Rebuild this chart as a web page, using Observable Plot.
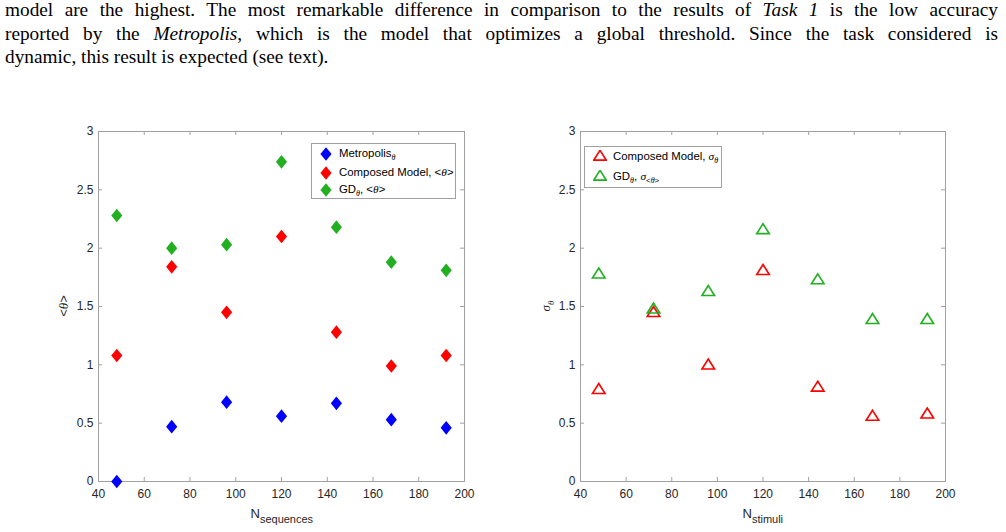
<!DOCTYPE html>
<html><head><meta charset="utf-8">
<script src="https://cdn.jsdelivr.net/npm/d3@7"></script>
<script src="https://cdn.jsdelivr.net/npm/@observablehq/plot@0.6"></script>
<style>
body{margin:0;background:#fff;}
#page{position:relative;width:1006px;height:532px;overflow:hidden;background:#fff;}
.para{position:absolute;left:5px;width:995px;top:-2px;font-family:"Liberation Serif","DejaVu Serif",serif;font-size:19.3px;line-height:23.5px;color:#000;}
.para div{white-space:nowrap;}
.chart{position:absolute;top:120px;}
.lab{position:absolute;font-family:"Liberation Sans",Arial,sans-serif;color:#262626;white-space:nowrap;}
.legend{position:absolute;border:1px solid #a0a0a0;background:#fff;font-family:"Liberation Sans",Arial,sans-serif;font-size:11.4px;color:#000;box-sizing:border-box;}
.row{position:absolute;white-space:nowrap;line-height:12px;}
.row svg{position:absolute;}
.row span.t{position:absolute;}
sub{font-size:8px;vertical-align:-3px;line-height:0;}
i{font-family:"Liberation Serif",serif;}
</style></head>
<body><div id="page">
<div class="para">
<div class="j">model are the highest. The most remarkable difference in comparison to the results of <i>Task 1</i> is the low accuracy</div>
<div class="j">reported by the <i>Metropolis</i>, which is the model that optimizes a global threshold. Since the task considered is</div>
<div>dynamic, this result is expected (see text).</div>
</div>
<div id="left" class="chart" style="left:0px"></div>
<div id="right" class="chart" style="left:500px"></div>
</div>
<script>
const nValues = [48, 72, 96, 120, 144, 168, 192];
const metropolisMean = [0, 0.47, 0.68, 0.56, 0.67, 0.53, 0.46];
const composedMean = [1.08, 1.84, 1.45, 2.10, 1.28, 0.99, 1.08];
const gdMean = [2.28, 2.00, 2.03, 2.74, 2.18, 1.88, 1.81];
const composedSigma = [0.79, 1.45, 1.00, 1.81, 0.81, 0.56, 0.58];
const gdSigma = [1.78, 1.48, 1.63, 2.16, 1.73, 1.39, 1.39];
const xTicks = [40, 60, 80, 100, 120, 140, 160, 180, 200];
const yTicks = [0, 0.5, 1, 1.5, 2, 2.5, 3];
const yTickLabels = ["0", "0.5", "1", "1.5", "2", "2.5", "3"];

const BLUE = "#0000ff", RED = "#ff0000", GREEN = "#22b022", FRAME = "#a0a0a0";

// justify first two paragraph lines by word-spacing
document.querySelectorAll(".para .j").forEach(d => {
  d.style.display = "inline-block";
  const natural = d.getBoundingClientRect().width;
  const spaces = (d.textContent.match(/[ \u00a0]/g) || []).length;
  d.style.display = "block";
  d.style.wordSpacing = ((993 - natural) / spaces) + "px";
});

const diamond = {draw(ctx, size) {
  const r = Math.sqrt(size / Math.PI);
  const w = r * 0.9, h = r * 1.1;
  ctx.moveTo(0, -h); ctx.lineTo(w, 0); ctx.lineTo(0, h); ctx.lineTo(-w, 0); ctx.closePath();
}};
const triangle = {draw(ctx, size) {
  const r = Math.sqrt(size / Math.PI);
  ctx.moveTo(0, -r * 0.92); ctx.lineTo(r, r * 0.66); ctx.lineTo(-r, r * 0.66); ctx.closePath();
}};

function rows(vals) { return nValues.map((x, i) => ({x, y: vals[i]})); }

function makePlot(opts) {
  const W = 500, H = 412, mT = 11, mB = 51;
  const innerW = W - opts.mL - opts.mR, innerH = H - mT - mB;
  return Plot.plot({
    width: W, height: H,
    marginLeft: opts.mL, marginRight: opts.mR, marginTop: mT, marginBottom: mB,
    x: {domain: [40, 200]},
    y: {domain: [0, 3]},
    style: {fontFamily: "Liberation Sans, Arial, sans-serif", fontSize: "12px", color: "#262626", background: "transparent"},
    marks: [
      Plot.frame({stroke: FRAME}),
      Plot.tickX(xTicks, {x: d => d, stroke: FRAME, insetTop: innerH - 4}),
      Plot.tickX(xTicks, {x: d => d, stroke: FRAME, insetBottom: innerH - 4}),
      Plot.tickY(yTicks, {y: d => d, stroke: FRAME, insetRight: innerW - 4}),
      Plot.tickY(yTicks, {y: d => d, stroke: FRAME, insetLeft: innerW - 4}),
      Plot.axisX({ticks: xTicks, tickSize: 0, tickPadding: 8, label: null, tickFormat: d => String(d)}),
      Plot.axisY({ticks: yTicks, tickSize: 0, tickPadding: 5, label: null, tickFormat: d => yTickLabels[yTicks.indexOf(d)]}),
      ...opts.series.map(s => Plot.dot(rows(s.values), {
        x: "x", y: "y", symbol: s.symbol, r: s.r,
        fill: s.filled ? s.color : "none",
        stroke: s.filled ? "none" : s.color,
        strokeWidth: s.filled ? 0 : 1.6
      }))
    ]
  });
}

document.getElementById("left").append(makePlot({
  mL: 98, mR: 36,
  series: [
    {values: metropolisMean, color: BLUE, symbol: diamond, r: 6.2, filled: true},
    {values: composedMean, color: RED, symbol: diamond, r: 6.2, filled: true},
    {values: gdMean, color: GREEN, symbol: diamond, r: 6.2, filled: true}
  ]
}));
document.getElementById("right").append(makePlot({
  mL: 80, mR: 55,
  series: [
    {values: composedSigma, color: RED, symbol: triangle, r: 6.3, filled: false},
    {values: gdSigma, color: GREEN, symbol: triangle, r: 6.3, filled: false}
  ]
}));

const page = document.getElementById("page");
function add(html, style, cls) {
  const d = document.createElement("div");
  d.className = cls || "lab";
  d.innerHTML = html;
  Object.assign(d.style, style);
  page.append(d);
  return d;
}
function centerLabel(html, cx, top) {
  const d = add(html, {top: top + "px", fontSize: "13px"});
  d.style.left = (cx - d.offsetWidth / 2) + "px";
}
centerLabel('N<sub style="font-size:11px;vertical-align:-5px">sequences</sub>', 282, 506);
centerLabel('N<sub style="font-size:11px;vertical-align:-5px">stimuli</sub>', 763, 506);

function yLabel(html, cx, cy) {
  const d = add(html, {fontSize: "13px"});
  d.style.left = (cx - d.offsetWidth / 2) + "px";
  d.style.top = (cy - d.offsetHeight / 2) + "px";
  d.style.transform = "rotate(-90deg)";
}
yLabel('&lt;<i>θ</i>&gt;', 64, 306);
yLabel('<i>σ</i><sub style="font-size:9px;vertical-align:-4px"><i>θ</i></sub>', 546, 306);

function markerSVG(kind, color) {
  if (kind === "diamond")
    return `<svg width="12" height="14" viewBox="-6 -7 12 14"><path d="M0,-6.8L5.6,0L0,6.8L-5.6,0Z" fill="${color}"/></svg>`;
  return `<svg width="14" height="12" viewBox="-7 -6 14 12"><path d="M0,-5.7L6.2,4.1L-6.2,4.1Z" fill="none" stroke="${color}" stroke-width="1.6"/></svg>`;
}
function legend(box, entries) {
  const lg = add("", {left: box.x + "px", top: box.y + "px", width: box.w + "px", height: box.h + "px"}, "legend");
  entries.forEach(e => {
    const r = document.createElement("div");
    r.className = "row";
    r.style.left = "0px"; r.style.top = (e.y - box.y) + "px";
    r.innerHTML = markerSVG(e.kind, e.color) + `<span class="t">${e.html}</span>`;
    const svg = r.querySelector("svg");
    svg.style.left = (e.mx - box.x - 7) + "px"; svg.style.top = "-7px";
    const t = r.querySelector("span.t");
    t.style.left = (box.tx - box.x) + "px"; t.style.top = "-7px";
    lg.append(r);
  });
}
legend({x: 311, y: 143, w: 145, h: 56, tx: 338}, [
  {kind: "diamond", color: BLUE, mx: 326, y: 153, html: 'Metropolis<sub><i>θ</i></sub>'},
  {kind: "diamond", color: RED, mx: 326, y: 172, html: 'Composed Model, &lt;<i>θ</i>&gt;'},
  {kind: "diamond", color: GREEN, mx: 326, y: 189, html: 'GD<sub><i>θ</i></sub>, &lt;<i>θ</i>&gt;'}
]);
legend({x: 584, y: 146, w: 138, h: 42, tx: 612}, [
  {kind: "triangle", color: RED, mx: 599, y: 156, html: 'Composed Model, <i>σ</i><sub><i>θ</i></sub>'},
  {kind: "triangle", color: GREEN, mx: 599, y: 176, html: 'GD<sub><i>θ</i></sub>, <i>σ</i><sub>&lt;<i>θ</i>&gt;</sub>'}
]);
</script>
</body></html>
